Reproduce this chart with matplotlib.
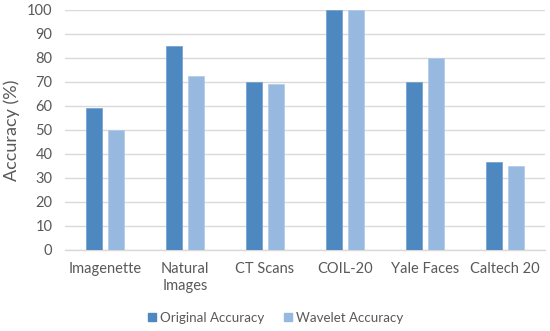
import numpy as np
import matplotlib.pyplot as plt
from matplotlib.lines import Line2D

categories = ["Imagenette", "Natural\nImages", "CT Scans", "COIL-20", "Yale Faces", "Caltech 20"]
original = [59, 85, 70, 100, 70, 36.5]
wavelet = [50, 72.5, 69, 100, 80, 35]
yticks = list(range(0, 101, 10))

c_orig = "#4e88c0"
c_wave = "#97b9e0"
txt = "#595959"

plt.rcParams["font.family"] = ["Lato", "DejaVu Sans"]


def main():
    fig = plt.figure(figsize=(5.5, 3.31), dpi=100)
    ax = fig.add_axes([0.118, 0.245, 0.873, 0.725])

    x = np.arange(len(categories))
    w = 0.21
    ax.bar(x - 0.1375, original, w, color=c_orig, edgecolor="#6f9fd0", linewidth=0.5, zorder=3)
    ax.bar(x + 0.1375, wavelet, w, color=c_wave, edgecolor="#b0cbe9", linewidth=0.5, zorder=3)

    ax.set_xlim(-0.5, len(categories) - 0.5)
    ax.set_ylim(0, 100)
    ax.set_yticks(yticks)
    ax.set_xticks(x)
    ax.set_xticklabels(categories)
    ax.yaxis.grid(True, color="#d9d9d9", linewidth=1, zorder=0)
    for s in ["top", "right", "left"]:
        ax.spines[s].set_visible(False)
    ax.spines["bottom"].set_color("#d9d9d9")
    ax.spines["bottom"].set_linewidth(1)
    ax.tick_params(axis="both", length=0, labelsize=10.5, colors=txt)
    ax.tick_params(axis="x", pad=9)
    ax.tick_params(axis="y", pad=9)
    ax.set_ylabel("Accuracy (%)", fontsize=13, color=txt, labelpad=5)

    handles = [Line2D([], [], marker="s", linestyle="", markersize=5.5, color=c_orig),
               Line2D([], [], marker="s", linestyle="", markersize=5.5, color=c_wave)]
    fig.legend(handles, ["Original Accuracy", "Wavelet Accuracy"], loc="center",
               bbox_to_anchor=(0.498, 0.04), ncol=2, frameon=False, fontsize=9.6,
               labelcolor=txt, handletextpad=0.0, columnspacing=1.2, handlelength=1.2)

    fig.savefig("out.png", dpi=100)


if __name__ == "__main__":
    main()
